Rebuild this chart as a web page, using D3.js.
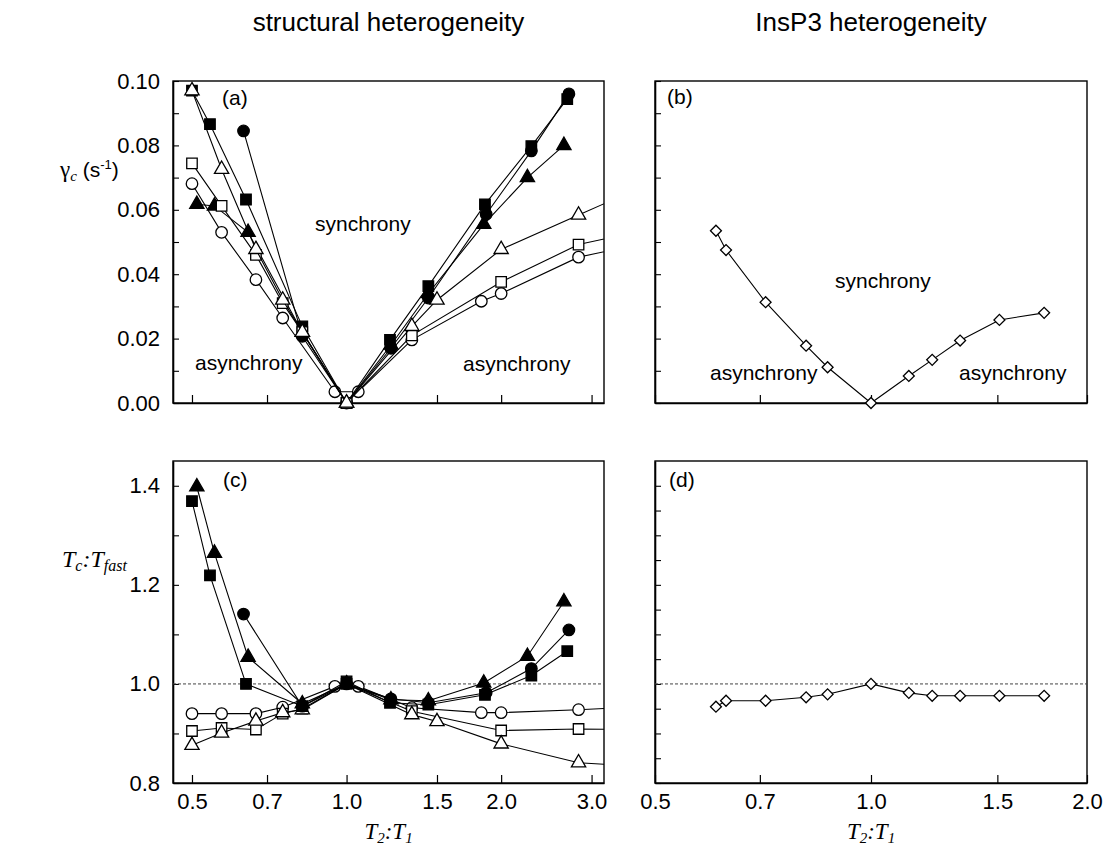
<!DOCTYPE html>
<html>
<head>
<meta charset="utf-8">
<script src="https://cdn.jsdelivr.net/npm/d3@7/dist/d3.min.js"></script>
<style>
  html, body { margin: 0; padding: 0; background: #fff; }
  svg { display: block; }
</style>
</head>
<body>
<svg id="chart" width="1108" height="854"></svg>
<script>
// ---------------- DATA ----------------
const leftTickValues = [0.5, 0.7, 1.0, 1.5, 2.0, 3.0];
const leftTickLabels = ["0.5", "0.7", "1.0", "1.5", "2.0", "3.0"];
const rightTickValues = [0.5, 0.7, 1.0, 1.5, 2.0];
const rightTickLabels = ["0.5", "0.7", "1.0", "1.5", "2.0"];
const gammaMajorTicks = [0.00, 0.02, 0.04, 0.06, 0.08, 0.10];
const gammaTickLabels = ["0.00", "0.02", "0.04", "0.06", "0.08", "0.10"];
const gammaMinorTicks = [0.01, 0.03, 0.05, 0.07, 0.09];
const ratioMajorTicks = [0.8, 1.0, 1.2, 1.4];
const ratioTickLabels = ["0.8", "1.0", "1.2", "1.4"];
const ratioMinorTicksC = [0.9, 1.1, 1.3];
const ratioMinorTicksD = [0.85, 0.9, 0.95, 1.05, 1.1, 1.15, 1.25, 1.3, 1.35];

// structural heterogeneity series (x = T2:T1)
const sqFilledX     = [0.5, 0.542, 0.637, 0.82, 1.0, 1.215, 1.443, 1.86, 2.29, 2.69];
const sqFilledGamma = [0.097, 0.0866, 0.0632, 0.0238, 0, 0.0196, 0.0363, 0.0617, 0.0798, 0.0944];
const sqFilledRatio = [1.369, 1.219, 1.0, 0.955, 1.005, 0.962, 0.958, 0.978, 1.017, 1.066];

const circFilledX     = [0.63, 0.82, 1.0, 1.22, 1.443, 1.87, 2.29, 2.71];
const circFilledGamma = [0.0845, 0.0207, 0, 0.017, 0.0326, 0.0586, 0.0783, 0.096];
const circFilledRatio = [1.141, 0.955, 1.0, 0.97, 0.962, 0.982, 1.031, 1.109];

const triFilledX     = [0.511, 0.553, 0.643, 0.82, 1.0, 1.22, 1.443, 1.85, 2.25, 2.65];
const triFilledGamma = [0.0617, 0.0612, 0.053, 0.022, 0, 0.018, 0.034, 0.0555, 0.070, 0.080];
const triFilledRatio = [1.398, 1.264, 1.054, 0.96, 1.0, 0.968, 0.966, 1.002, 1.056, 1.166];

const triOpenX     = [0.5, 0.571, 0.666, 0.751, 0.82, 1.0, 1.34, 1.5, 2.0, 2.83, 3.4];
const triOpenGamma = [0.097, 0.0726, 0.0477, 0.032, 0.022, 0, 0.0238, 0.032, 0.0477, 0.0584, 0.064];
const triOpenRatio = [0.876, 0.901, 0.925, 0.942, 0.948, 1.0, 0.938, 0.924, 0.879, 0.841, 0.836];

const sqOpenX     = [0.5, 0.571, 0.666, 0.751, 0.82, 1.0, 1.34, 2.0, 2.83, 3.4];
const sqOpenGamma = [0.0744, 0.0612, 0.046, 0.031, 0.022, 0, 0.021, 0.0376, 0.0492, 0.052];
const sqOpenRatio = [0.905, 0.911, 0.908, 0.94, 0.95, 1.0, 0.945, 0.906, 0.909, 0.908];

const circOpenX     = [0.5, 0.571, 0.666, 0.751, 0.949, 1.054, 1.34, 1.83, 2.0, 2.83, 3.4];
const circOpenGamma = [0.0681, 0.053, 0.0383, 0.0264, 0.0035, 0.0035, 0.0196, 0.0316, 0.034, 0.0453, 0.048];
const circOpenRatio = [0.940, 0.940, 0.940, 0.953, 0.995, 0.995, 0.952, 0.942, 0.942, 0.948, 0.952];

// InsP3 heterogeneity series
const diaX     = [0.608, 0.628, 0.713, 0.812, 0.870, 1.0, 1.129, 1.217, 1.331, 1.51, 1.743];
const diaGamma = [0.0535, 0.0475, 0.0313, 0.0178, 0.0111, 0, 0.0084, 0.0134, 0.0194, 0.0258, 0.028];
const diaRatio = [0.954, 0.966, 0.966, 0.973, 0.979, 1.0, 0.982, 0.976, 0.976, 0.976, 0.976];

// ---------------- LAYOUT ----------------
const svg = d3.select("#chart");
const SANS = "'Liberation Sans', Arial, Helvetica, sans-serif";
const SERIF = "'Liberation Serif', 'Times New Roman', serif";

const P = {
  a: {left: 173, right: 604, top: 81, bottom: 403},
  b: {left: 655, right: 1087, top: 81, bottom: 403},
  c: {left: 173, right: 604, top: 461, bottom: 783},
  d: {left: 655, right: 1087, top: 461, bottom: 783}
};

const xLeft = d3.scaleLog().domain([0.4592, 3.172]).range([P.a.left, P.a.right]);
const xRight = d3.scaleLog().domain([0.5, 2.0]).range([P.b.left, P.b.right]);
const yGammaTop = d3.scaleLinear().domain([0, 0.10]).range([P.a.bottom, P.a.top]);
const yRatioBot = d3.scaleLinear().domain([0.8, 1.45]).range([P.c.bottom, P.c.top]);

const symCircle = d3.symbol().type(d3.symbolCircle).size(104);
const symSquare = d3.symbol().type(d3.symbolSquare).size(110);
const symTriangle = d3.symbol().type(d3.symbolTriangle).size(88);
const symDiamond = d3.symbol().type(d3.symbolSquare).size(60);

function clipFor(id, p) {
  svg.append("clipPath").attr("id", id)
    .append("rect").attr("x", p.left).attr("y", p.top - 20)
    .attr("width", p.right - p.left).attr("height", p.bottom - p.top + 40);
}
clipFor("clipA", P.a); clipFor("clipB", P.b); clipFor("clipC", P.c); clipFor("clipD", P.d);

function frame(p) {
  svg.append("rect").attr("x", p.left).attr("y", p.top)
    .attr("width", p.right - p.left).attr("height", p.bottom - p.top)
    .attr("fill", "none").attr("stroke", "#000").attr("stroke-width", 1.4);
}

function xAxis(p, scale, vals, labels, showLabels) {
  const ax = d3.axisBottom(scale).tickValues(vals).tickSizeInner(-8).tickSizeOuter(0)
    .tickPadding(10)
    .tickFormat((d, i) => showLabels ? labels[i] : "");
  const g = svg.append("g").attr("transform", `translate(0,${p.bottom})`).call(ax);
  g.select(".domain").attr("stroke-width", 1.6);
  g.selectAll(".tick line").attr("stroke-width", 1.2);
  g.selectAll("text").attr("font-family", SANS).attr("font-size", 22).attr("fill", "#000");
}

function yAxis(p, scale, major, labels, minor, showLabels) {
  const ax = d3.axisLeft(scale).tickValues(major).tickSizeInner(-6).tickSizeOuter(0)
    .tickPadding(13)
    .tickFormat((d, i) => showLabels ? labels[i] : "");
  const g = svg.append("g").attr("transform", `translate(${p.left},0)`).call(ax);
  g.select(".domain").attr("stroke-width", 1.6);
  g.selectAll(".tick line").attr("stroke-width", 1.1);
  g.selectAll("text").attr("font-family", SANS).attr("font-size", 22).attr("fill", "#000");
  const ax2 = d3.axisLeft(scale).tickValues(minor).tickSizeInner(-6).tickSizeOuter(0).tickFormat("");
  const g2 = svg.append("g").attr("transform", `translate(${p.left},0)`).call(ax2);
  g2.select(".domain").remove();
  g2.selectAll(".tick line").attr("stroke-width", 1.1);
}

function series(clipId, xs, ys, xScale, yScale, sym, filled, rotate) {
  const pts = xs.map((x, i) => [x, ys[i]]);
  const g = svg.append("g").attr("clip-path", `url(#${clipId})`);
  g.append("path").datum(pts)
    .attr("d", d3.line().x(d => xScale(d[0])).y(d => yScale(d[1])))
    .attr("fill", "none").attr("stroke", "#000").attr("stroke-width", 1.1);
  g.selectAll("path.m").data(pts).enter().append("path").attr("class", "m")
    .attr("d", sym)
    .attr("transform", d => `translate(${xScale(d[0])},${yScale(d[1])})` + (rotate ? " rotate(45)" : ""))
    .attr("fill", filled ? "#000" : "#fff")
    .attr("stroke", "#000").attr("stroke-width", 1.3);
}

function refLine(p, xScale, yScale, val) {
  svg.append("line")
    .attr("x1", p.left).attr("x2", p.right)
    .attr("y1", yScale(val)).attr("y2", yScale(val))
    .attr("stroke", "#444").attr("stroke-width", 1).attr("stroke-dasharray", "3,2");
}

function label(x, y, txt, anchor, size) {
  svg.append("text").attr("x", x).attr("y", y).attr("text-anchor", anchor || "start")
    .attr("font-family", SANS).attr("font-size", size || 21).attr("fill", "#000").text(txt);
}

// ---------------- PANEL (a) ----------------
frame(P.a);
yAxis(P.a, yGammaTop, gammaMajorTicks, gammaTickLabels, gammaMinorTicks, true);
xAxis(P.a, xLeft, leftTickValues, leftTickLabels, false);
series("clipA", circOpenX, circOpenGamma, xLeft, yGammaTop, symCircle, false);
series("clipA", sqFilledX, sqFilledGamma, xLeft, yGammaTop, symSquare, true);
series("clipA", circFilledX, circFilledGamma, xLeft, yGammaTop, symCircle, true);
series("clipA", triFilledX, triFilledGamma, xLeft, yGammaTop, symTriangle, true);
series("clipA", sqOpenX, sqOpenGamma, xLeft, yGammaTop, symSquare, false);
series("clipA", triOpenX, triOpenGamma, xLeft, yGammaTop, symTriangle, false);
label(222, 105, "(a)");
label(315, 231, "synchrony");
label(195, 370, "asynchrony");
label(463, 371, "asynchrony");

// ---------------- PANEL (b) ----------------
frame(P.b);
yAxis(P.b, yGammaTop, gammaMajorTicks, gammaTickLabels, gammaMinorTicks, false);
xAxis(P.b, xRight, rightTickValues, rightTickLabels, false);
series("clipB", diaX, diaGamma, xRight, yGammaTop, symDiamond, false, true);
label(667, 104, "(b)");
label(835, 288, "synchrony");
label(710, 380, "asynchrony");
label(959, 380, "asynchrony");

// ---------------- PANEL (c) ----------------
frame(P.c);
yAxis(P.c, yRatioBot, ratioMajorTicks, ratioTickLabels, ratioMinorTicksC, true);
xAxis(P.c, xLeft, leftTickValues, leftTickLabels, true);
refLine(P.c, xLeft, yRatioBot, 1.0);
series("clipC", circOpenX, circOpenRatio, xLeft, yRatioBot, symCircle, false);
series("clipC", sqOpenX, sqOpenRatio, xLeft, yRatioBot, symSquare, false);
series("clipC", triOpenX, triOpenRatio, xLeft, yRatioBot, symTriangle, false);
series("clipC", circFilledX, circFilledRatio, xLeft, yRatioBot, symCircle, true);
series("clipC", triFilledX, triFilledRatio, xLeft, yRatioBot, symTriangle, true);
series("clipC", sqFilledX, sqFilledRatio, xLeft, yRatioBot, symSquare, true);
label(223, 487, "(c)");

// ---------------- PANEL (d) ----------------
frame(P.d);
yAxis(P.d, yRatioBot, ratioMajorTicks, ratioTickLabels, ratioMinorTicksD, false);
xAxis(P.d, xRight, rightTickValues, rightTickLabels, true);
refLine(P.d, xRight, yRatioBot, 1.0);
series("clipD", diaX, diaRatio, xRight, yRatioBot, symDiamond, false, true);
label(669, 487, "(d)");

// ---------------- TITLES & AXIS LABELS ----------------
label((P.a.left + P.a.right) / 2, 31, "structural heterogeneity", "middle", 26);
label((P.b.left + P.b.right) / 2, 31, "InsP3 heterogeneity", "middle", 26);

// y label (a): γc (s-1)
const yl1 = svg.append("text").attr("x", 60).attr("y", 177).attr("fill", "#000");
yl1.append("tspan").attr("font-family", SERIF).attr("font-size", 23).text("γ");
yl1.append("tspan").attr("font-family", SERIF).attr("font-style", "italic").attr("font-size", 15).attr("dy", 4).text("c");
yl1.append("tspan").attr("font-family", SANS).attr("font-size", 21).attr("dy", -4).text(" (s");
yl1.append("tspan").attr("font-family", SANS).attr("font-size", 13).attr("dy", -8).text("-1");
yl1.append("tspan").attr("font-family", SANS).attr("font-size", 21).attr("dy", 8).text(")");

// y label (c): Tc:Tfast
const yl2 = svg.append("text").attr("x", 62).attr("y", 567).attr("fill", "#000")
  .attr("font-family", SERIF).attr("font-style", "italic");
yl2.append("tspan").attr("font-size", 24).text("T");
yl2.append("tspan").attr("font-size", 16).attr("dy", 4).text("c");
yl2.append("tspan").attr("font-size", 24).attr("dy", -4).text(":T");
yl2.append("tspan").attr("font-size", 16).attr("dy", 4).text("fast");

// x labels: T2:T1
function xLabel(cx) {
  const t = svg.append("text").attr("x", cx).attr("y", 839).attr("text-anchor", "middle")
    .attr("fill", "#000").attr("font-family", SERIF).attr("font-style", "italic");
  t.append("tspan").attr("font-size", 23).text("T");
  t.append("tspan").attr("font-size", 15).attr("dy", 4).text("2");
  t.append("tspan").attr("font-size", 23).attr("dy", -4).text(":T");
  t.append("tspan").attr("font-size", 15).attr("dy", 4).text("1");
}
xLabel((P.c.left + P.c.right) / 2);
xLabel((P.d.left + P.d.right) / 2);
</script>
</body>
</html>
